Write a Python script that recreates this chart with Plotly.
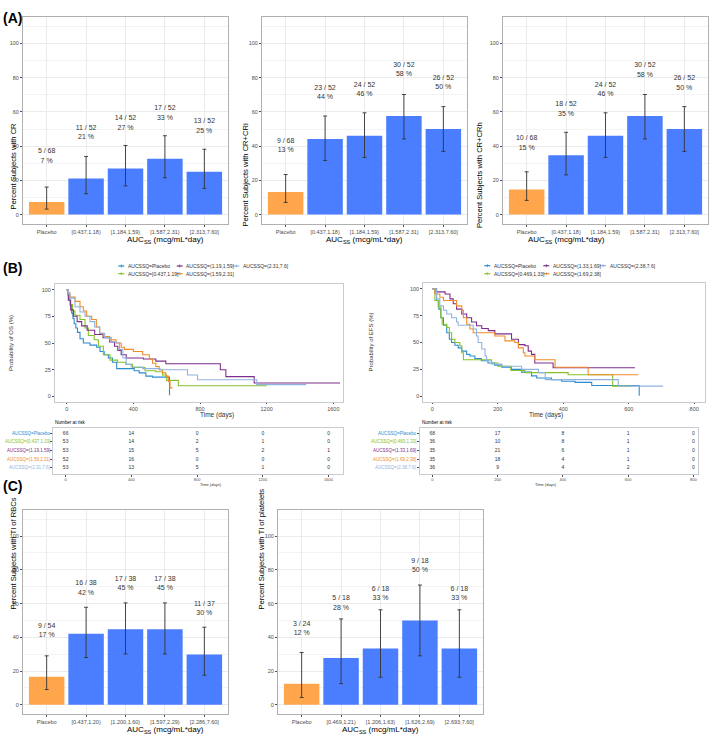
import plotly.graph_objects as go

W, H = 709, 734
def fx(p): return p / W
def fy(p): return 1 - p / H

FONT = "Liberation Sans, Arial, sans-serif"
ORANGE = "#FFA54C"
BLUE = "#4B7EFF"
GRID = "#EBEBEB"
FRAME = "#B0B0B0"
TICK = "#4D4D4D"

# ---------------- Panel A / C data ----------------
a_cats = ["Placebo", "[0.437,1.18)", "[1.184,1.59)", "[1.587,2.31)", "[2.313,7.60]"]
cr_n = [5, 11, 14, 17, 13]
cr_N = [68, 52, 52, 52, 52]
cr_lo = [3.2, 12.2, 16.8, 21.5, 15.3]
cr_hi = [16.1, 34.0, 40.4, 46.1, 38.2]

cri_n = [9, 23, 24, 30, 26]
cri_N = [68, 52, 52, 52, 52]
cri_lo = [7.1, 31.6, 33.4, 44.2, 36.9]
cri_hi = [23.4, 57.6, 59.5, 70.2, 63.1]

crh_n = [10, 18, 24, 30, 26]
crh_N = [68, 52, 52, 52, 52]
crh_lo = [8.3, 23.2, 33.4, 44.2, 36.9]
crh_hi = [25.0, 48.1, 59.5, 70.2, 63.1]

rbc_cats = ["Placebo", "[0.437,1.20)", "[1.200,1.60)", "[1.597,2.29)", "[2.286,7.60]"]
rbc_n = [9, 16, 17, 17, 11]
rbc_N = [54, 38, 38, 38, 37]
rbc_lo = [9.0, 28.0, 30.1, 30.1, 17.5]
rbc_hi = [29.0, 57.8, 60.4, 60.4, 46.0]

plt_cats = ["Placebo", "[0.469,1.21)", "[1.206,1.63)", "[1.626,2.69)", "[2.693,7.60]"]
plt_n = [3, 5, 6, 9, 6]
plt_N = [24, 18, 18, 18, 18]
plt_lo = [4.3, 12.5, 16.3, 29.0, 16.3]
plt_hi = [31.0, 50.9, 56.3, 71.0, 56.3]

# ---------------- Panel B data ----------------
km_colors = ["#2B8CD0", "#86C226", "#7E2F8E", "#F28C28", "#8FB3DE"]
os_groups = ["AUCSSQ=Placebo", "AUCSSQ=[0.437,1.19]", "AUCSSQ=(1.19,1.59]",
             "AUCSSQ=(1.59,2.31]", "AUCSSQ=(2.31,7.6]"]
efs_groups = ["AUCSSQ=Placebo", "AUCSSQ=[0.469,1.33]", "AUCSSQ=(1.33,1.69]",
              "AUCSSQ=(1.69,2.38]", "AUCSSQ=(2.38,7.6]"]

os_p_t = [0, 8, 15, 22, 30, 38, 45, 55, 65, 80, 100, 140, 180, 200, 225, 250, 275, 300, 405, 435, 475, 515, 617]
os_p_s = [100, 95, 90, 85, 78, 73, 68, 64, 60, 54, 50, 48, 46, 42, 39, 36, 32, 26, 24, 22, 19, 18, 1]
os_g1_t = [0, 10, 20, 35, 50, 80, 110, 130, 165, 190, 220, 260, 305, 355, 395, 470, 535, 575, 600, 670, 1200]
os_g1_s = [100, 93, 86, 80, 76, 72, 64, 57, 53, 47, 39, 34, 32, 30, 27, 24, 23, 20, 15, 10, 10]
os_g2_t = [0, 10, 24, 40, 63, 90, 123, 168, 218, 258, 287, 307, 327, 357, 460, 535, 595, 922, 955, 1125, 1640]
os_g2_s = [100, 90, 81, 75, 70, 66, 62, 58, 55, 51, 47, 43, 39, 36, 35, 33, 30.5, 25, 18.5, 12.5, 12.5]
os_g3_t = [0, 10, 20, 50, 80, 100, 120, 150, 178, 198, 218, 258, 297, 327, 347, 400, 456, 496, 515, 535, 555, 575, 595, 610, 620, 635]
os_g3_s = [100, 97, 93, 89, 84, 80, 75, 72, 65, 59, 56, 53, 50, 46, 44, 42, 39, 35, 31, 28, 25, 22, 19, 14, 8, 8]
os_g4_t = [0, 10, 20, 50, 80, 110, 140, 168, 198, 228, 268, 297, 317, 337, 357, 387, 456, 560, 725, 785, 1140, 1437]
os_g4_s = [100, 96, 92, 84, 79, 75, 70, 65, 59, 55, 51, 50, 44, 36, 30, 27.5, 26, 25, 20, 15.5, 11, 11]

efs_p_t = [0, 8, 13, 20, 26, 34, 44, 52, 59, 69, 79, 90, 105, 115, 130, 150, 170, 190, 212, 242, 273, 303, 319, 364, 395, 436, 487, 632]
efs_p_s = [100, 97, 89, 81, 73, 66, 59, 53, 50, 47.5, 45, 42, 39, 37.5, 35, 33, 31, 29, 27, 25, 22.5, 19, 17, 15.5, 14, 13, 10, 0.5]
efs_g1_t = [0, 8, 18, 26, 30, 44, 52, 59, 69, 84, 90, 95, 181, 200, 240, 283, 415, 551, 608]
efs_g1_s = [100, 89, 83, 73, 67, 64, 59, 53, 50, 47, 40.5, 34, 31, 28, 24, 22, 20, 9.5, 9.5]
efs_g2_t = [0, 13, 39, 54, 64, 74, 90, 105, 120, 135, 151, 171, 191, 242, 263, 283, 293, 303, 313, 369, 619]
efs_g2_s = [100, 97, 95, 90.5, 86, 81, 76.5, 73, 69, 65.5, 63, 61, 58, 53, 48, 47, 42, 39, 31, 26.5, 26.5]
efs_g3_t = [0, 8, 23, 34, 74, 90, 95, 105, 115, 125, 191, 222, 252, 263, 278, 283, 313, 375, 476, 629]
efs_g3_s = [100, 95, 92, 89, 84, 80, 73, 67, 62.5, 59, 56, 51.5, 50, 45, 40.5, 37.5, 34, 27, 20, 20]
efs_g4_t = [0, 13, 23, 34, 44, 59, 74, 79, 125, 135, 140, 151, 161, 166, 181, 212, 273, 324, 345, 568, 705]
efs_g4_s = [100, 90.5, 84, 80, 76.5, 73, 69, 66, 62.5, 56, 50, 44, 37.5, 33, 30, 28, 25, 22, 15.5, 9.5, 9.5]

os_risk_times = [0, 400, 800, 1200, 1600]
os_risk = [[66, 14, 0, 0, 0], [53, 14, 2, 1, 0], [53, 15, 5, 2, 1], [52, 16, 0, 0, 0], [53, 13, 5, 1, 0]]
efs_risk_times = [0, 200, 400, 600, 800]
efs_risk = [[68, 17, 8, 1, 0], [36, 10, 8, 1, 0], [35, 21, 6, 1, 0], [35, 18, 4, 1, 0], [36, 9, 4, 2, 0]]

fig = go.Figure()
layout = {"shapes": []}
ann = []

def axkeys(k):
    return ("x" if k == 1 else f"x{k}", "y" if k == 1 else f"y{k}",
            "xaxis" if k == 1 else f"xaxis{k}", "yaxis" if k == 1 else f"yaxis{k}")

def add_bar_panel(k, cats, n, N, lo, hi, ytitle, x0, x1, y0, y1, ytitle_x, off_frac, off_pct):
    xa, ya, xk, yk = axkeys(k)
    pct = [a / b * 100 for a, b in zip(n, N)]
    colors = [ORANGE] + [BLUE] * (len(cats) - 1)
    fig.add_trace(go.Bar(
        x=cats, y=pct, width=0.9, marker=dict(color=colors, line=dict(width=0)),
        error_y=dict(type="data", symmetric=False,
                     array=[h - p for h, p in zip(hi, pct)],
                     arrayminus=[p - l for l, p in zip(lo, pct)],
                     color="#333333", thickness=0.9, width=2),
        xaxis=xa, yaxis=ya, showlegend=False, hoverinfo="skip"))
    fig.add_trace(go.Scatter(
        x=cats, y=[p + off_frac for p in pct], mode="text",
        text=[f"{a} / {b}" for a, b in zip(n, N)],
        textfont=dict(size=7, color="#333333", family=FONT),
        xaxis=xa, yaxis=ya, showlegend=False, hoverinfo="skip"))
    fig.add_trace(go.Scatter(
        x=cats, y=[p + off_pct for p in pct], mode="text",
        text=[f"{round(p)} %" for p in pct],
        textfont=dict(size=7, color="#333333", family=FONT),
        xaxis=xa, yaxis=ya, showlegend=False, hoverinfo="skip"))
    layout[xk] = dict(domain=[fx(x0), fx(x1)], anchor=ya, type="category",
                      range=[-0.6, len(cats) - 0.4], showline=True, mirror=True,
                      linecolor=FRAME, linewidth=1, showgrid=True, gridcolor=GRID,
                      gridwidth=0.6, ticks="outside", ticklen=2, tickcolor=TICK,
                      tickwidth=0.6, tickfont=dict(size=5.5, color=TICK),
                      zeroline=False)
    layout[yk] = dict(domain=[fy(y1), fy(y0)], anchor=xa, range=[-5.5, 115.5],
                      tickmode="linear", tick0=0, dtick=20, showline=True, mirror=True,
                      linecolor=FRAME, linewidth=1, showgrid=True, gridcolor=GRID,
                      gridwidth=0.6, ticks="outside", ticklen=2, tickcolor=TICK,
                      tickwidth=0.6, tickfont=dict(size=5.5, color=TICK), zeroline=False,
                      minor=dict(tick0=0, dtick=10, showgrid=True, gridcolor="#F3F3F3",
                                 gridwidth=0.4))
    ann.append(dict(text=ytitle, x=fx(ytitle_x), y=fy((y0 + y1) / 2), xref="paper",
                    yref="paper", textangle=-90, showarrow=False,
                    font=dict(size=7.6, color="#000000", family=FONT)))
    ann.append(dict(text="AUC<sub>SS</sub> (mcg/mL*day)", x=fx((x0 + x1) / 2),
                    y=fy(y1 + 9.5), yanchor="top", xref="paper", yref="paper",
                    showarrow=False, borderpad=0,
                    font=dict(size=8, color="#000000", family=FONT)))

add_bar_panel(1, a_cats, cr_n, cr_N, cr_lo, cr_hi, "Percent Subjects with CR",
              23, 228, 17, 224, 6, 29.5, 23.8)
add_bar_panel(2, a_cats, cri_n, cri_N, cri_lo, cri_hi, "Percent Subjects with CR+CRi",
              262, 467, 17, 224, 245, 29.7, 24.2)
add_bar_panel(3, a_cats, crh_n, crh_N, crh_lo, crh_hi, "Percent Subjects with CR+CRh",
              503, 708, 17, 224, 486, 29.7, 24.0)
add_bar_panel(8, rbc_cats, rbc_n, rbc_N, rbc_lo, rbc_hi, "Percent Subjects with TI of RBCs",
              23, 228, 510, 714, 6, 29.8, 24.3)
add_bar_panel(9, plt_cats, plt_n, plt_N, plt_lo, plt_hi, "Percent Subjects with TI of platelets",
              278, 483, 510, 714, 261, 35.4, 29.7)

# ---------------- KM panels ----------------
TAB_TOP, TAB_BOT = 427.7, 474.0
TAB_RANGE = [4.7, -0.65]

def row_px(r):
    return TAB_TOP + (r - TAB_RANGE[1]) / (TAB_RANGE[0] - TAB_RANGE[1]) * (TAB_BOT - TAB_TOP)

def add_km(k, kt, curves, groups, risk_times, risk, x0, x1, y0, y1, xr, ticks,
           tx0, tx1, txr, ytitle, ytitle_x, leg_cols, leg_rows, risk_label_x):
    xa, ya, xk, yk = axkeys(k)
    for (t, s), c, g in zip(curves, km_colors, groups):
        fig.add_trace(go.Scatter(x=t, y=s, mode="lines", line=dict(color=c, width=1.1, shape="hv"),
                                 name=g, xaxis=xa, yaxis=ya, showlegend=False, hoverinfo="skip"))
    layout[xk] = dict(domain=[fx(x0), fx(x1)], anchor=ya, range=xr, tickvals=ticks,
                      showline=True, mirror=True, linecolor="#C9CBD3", linewidth=1,
                      showgrid=False, zeroline=False, ticks="outside", ticklen=1.5,
                      tickcolor=TICK, tickwidth=0.6, tickfont=dict(size=5.5, color=TICK))
    layout[yk] = dict(domain=[fy(y1), fy(y0)], anchor=xa, range=[-5, 105],
                      tickvals=[0, 25, 50, 75, 100], showline=True, mirror=True,
                      linecolor="#C9CBD3", linewidth=1, showgrid=False, zeroline=False,
                      ticks="outside", ticklen=2, tickcolor=TICK, tickwidth=0.6,
                      tickfont=dict(size=5.5, color=TICK))
    ann.append(dict(text=ytitle, x=fx(ytitle_x), y=fy((y0 + y1) / 2), xref="paper",
                    yref="paper", textangle=-90, showarrow=False,
                    font=dict(size=6, color="#333333", family=FONT)))
    ann.append(dict(text="Time (days)", x=fx((x0 + x1) / 2), y=fy(410), yanchor="top",
                    borderpad=0, xref="paper", yref="paper", showarrow=False,
                    font=dict(size=6.5, color="#333333", family=FONT)))
    # legend (ggplot style, 2 rows, column-major)
    for i, (g, c) in enumerate(zip(groups, km_colors)):
        col, row = i // 2, i % 2
        lx, ly = leg_cols[col], leg_rows[row]
        layout["shapes"].append(dict(
            type="line", xref="paper", yref="paper", x0=fx(lx), x1=fx(lx + 6),
            y0=fy(ly), y1=fy(ly), line=dict(color=c, width=1.2)))
        layout["shapes"].append(dict(
            type="line", xref="paper", yref="paper", x0=fx(lx + 3), x1=fx(lx + 3),
            y0=fy(ly - 1.5), y1=fy(ly + 1.5), line=dict(color=c, width=0.8)))
        ann.append(dict(text=g, x=fx(lx + 7.5), y=fy(ly), xref="paper", yref="paper",
                        xanchor="left", showarrow=False,
                        font=dict(size=5, color="#333333", family=FONT)))
    # risk table
    txa, tya, txk, tyk = axkeys(kt)
    for r, row in enumerate(risk):
        fig.add_trace(go.Scatter(x=risk_times, y=[r] * len(risk_times), mode="text",
                                 text=[str(v) for v in row],
                                 textfont=dict(size=5, color="#333333", family=FONT),
                                 xaxis=txa, yaxis=tya, showlegend=False, hoverinfo="skip"))
        ann.append(dict(text=groups[r], x=fx(risk_label_x), y=fy(row_px(r)), xref="paper",
                        yref="paper", xanchor="right", showarrow=False,
                        font=dict(size=4.5, color=km_colors[r], family=FONT)))
    layout[txk] = dict(domain=[fx(tx0), fx(tx1)], anchor=tya, range=txr, tickvals=risk_times,
                       showline=True, mirror=True, linecolor="#C9CBD3", linewidth=1,
                       showgrid=False, zeroline=False, ticks="outside", ticklen=1.5,
                       tickcolor=TICK, tickwidth=0.5, tickfont=dict(size=4, color=TICK))
    layout[tyk] = dict(domain=[fy(TAB_BOT), fy(TAB_TOP)], anchor=txa, range=TAB_RANGE,
                       tickvals=[0, 1, 2, 3, 4], showticklabels=False, showline=True,
                       mirror=True, linecolor="#C9CBD3", linewidth=1, showgrid=False,
                       zeroline=False, ticks="outside", ticklen=2, tickcolor=TICK,
                       tickwidth=0.5)
    ann.append(dict(text="Number at risk", x=fx(tx0 - 0.5), y=fy(422.3), xref="paper",
                    yref="paper", xanchor="left", showarrow=False,
                    font=dict(size=4.6, color="#000000", family=FONT)))
    ann.append(dict(text="Time (days)", x=fx((tx0 + tx1) / 2), y=fy(484.5), xref="paper",
                    yref="paper", showarrow=False, font=dict(size=4, color="#333333", family=FONT)))

os_curves = [(os_p_t, os_p_s), (os_g1_t, os_g1_s), (os_g2_t, os_g2_s),
             (os_g3_t, os_g3_s), (os_g4_t, os_g4_s)]
efs_curves = [(efs_p_t, efs_p_s), (efs_g1_t, efs_g1_s), (efs_g2_t, efs_g2_s),
              (efs_g3_t, efs_g3_s), (efs_g4_t, efs_g4_s)]

add_km(4, 6, os_curves, os_groups, os_risk_times, os_risk, 55, 342.7, 284.3, 401.7,
       [-70, 1656], [0, 400, 800, 1200, 1600], 53.3, 342.7, [-75, 1686],
       "Probability of OS (%)", 6, [118.3, 176.7, 233.3], [266, 273.7], 51.5)
add_km(5, 7, efs_curves, efs_groups, efs_risk_times, efs_risk, 423.3, 705, 283.3, 401.7,
       [-27.5, 833], [0, 200, 400, 600, 800], 420, 698.3, [-37.7, 815],
       "Probability of EFS (%)", 370, [484.3, 543.3, 600], [265.7, 273.7], 418)

for lab, y in [("(A)", 8.5), ("(B)", 267.5), ("(C)", 496)]:
    ann.append(dict(text=f"<b>{lab}</b>", x=fx(1), y=fy(y), xref="paper", yref="paper",
                    xanchor="left", showarrow=False,
                    font=dict(size=14, color="#000000", family=FONT)))

layout["annotations"] = ann
fig.update_layout(**layout)
fig.update_layout(width=W, height=H, margin=dict(l=0, r=0, t=0, b=0),
                  paper_bgcolor="white", plot_bgcolor="white",
                  font=dict(family=FONT, color="#333333"), showlegend=False)
fig.write_html("out.html", config={"displayModeBar": False},
               post_script="document.body.style.margin='0';document.body.style.padding='0';")
